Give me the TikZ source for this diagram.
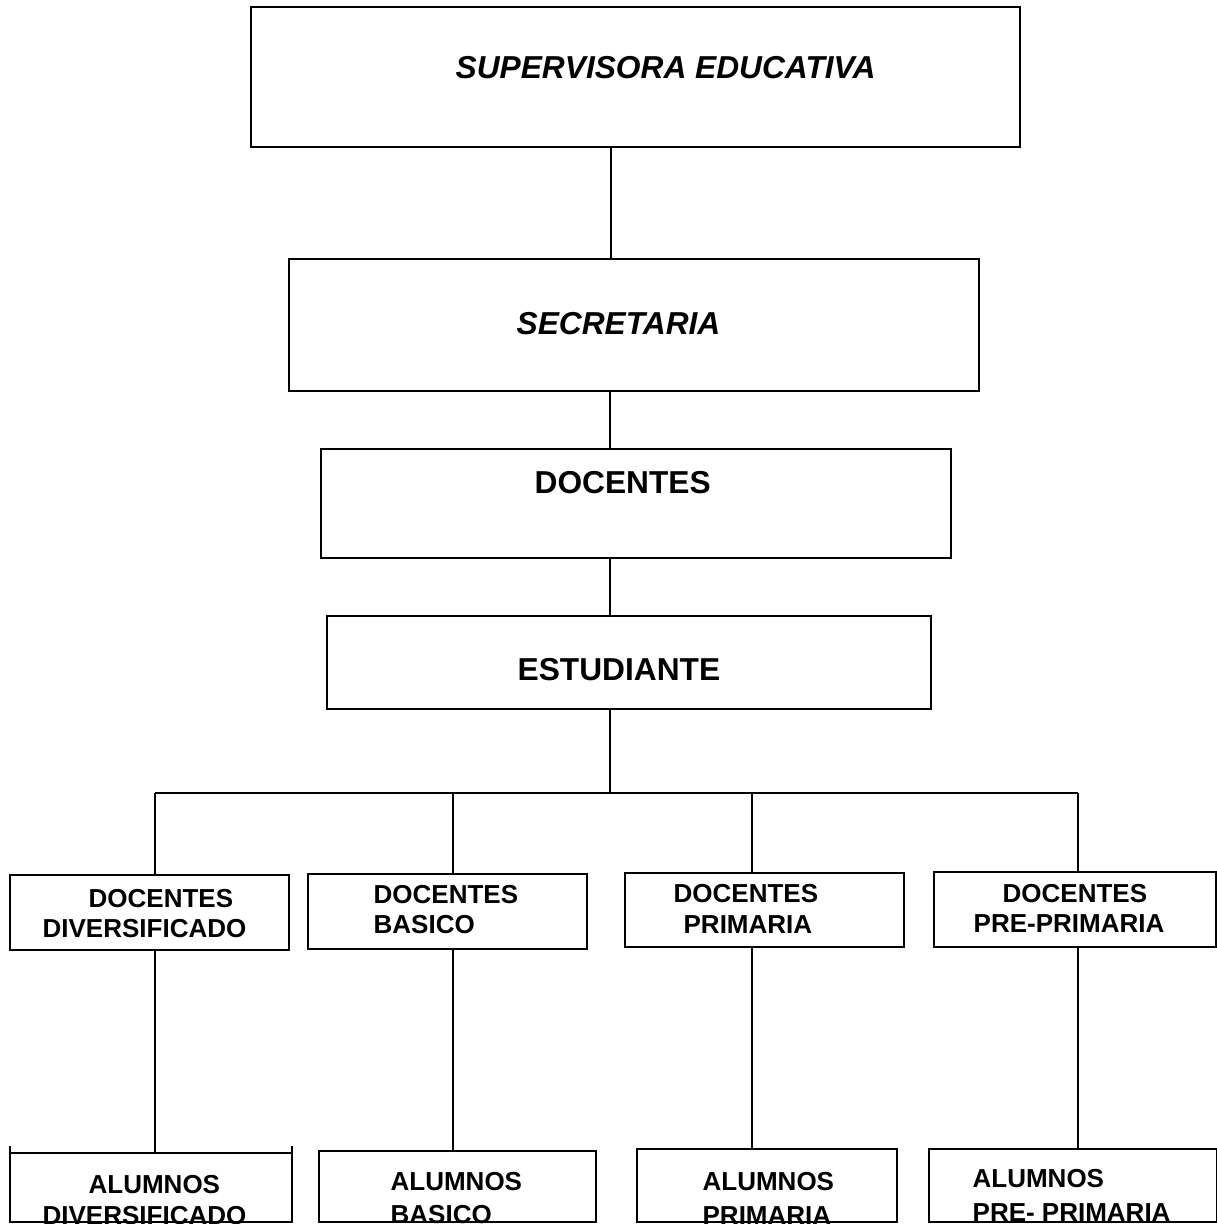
\documentclass[tikz,border=0pt]{standalone}
\usepackage{fontspec}
\setmainfont{Liberation Sans}
\begin{document}
\begin{tikzpicture}[x=1pt,y=-1pt,line width=1.3pt,
  box/.style={draw,rectangle,inner sep=0pt,outer sep=0pt},
  bigtxt/.style={font=\fontsize{31.7}{34}\selectfont\bfseries,inner sep=0pt,anchor=base west},
  bigit/.style={font=\fontsize{31.7}{34}\selectfont\bfseries\itshape,inner sep=0pt,anchor=base west},
  smalltxt/.style={font=\fontsize{26}{28}\selectfont\bfseries,inner sep=0pt,anchor=base west}]
\useasboundingbox (0,0) rectangle (1217,1224);
\clip (0,0) rectangle (1217,1224);
\fill[white] (0,0) rectangle (1217,1224);
% boxes
\node[box,minimum width=769pt,minimum height=140pt] (sup) at (635.5,77) {};
\node[box,minimum width=690pt,minimum height=132pt] (sec) at (634,325) {};
\node[box,minimum width=630pt,minimum height=109pt] (doc) at (636,503.5) {};
\node[box,minimum width=604pt,minimum height=93pt] (est) at (629,662.5) {};
\node[box,minimum width=279pt,minimum height=75pt] (dd) at (149.5,912.5) {};
\node[box,minimum width=279pt,minimum height=75pt] (db) at (447.5,911.5) {};
\node[box,minimum width=279pt,minimum height=74pt] (dp) at (764.5,910) {};
\node[box,minimum width=282pt,minimum height=75pt] (dpp) at (1075,909.5) {};
\node[box,minimum width=282pt,minimum height=69pt] (ad) at (151,1187.5) {};
\node[box,minimum width=277pt,minimum height=71pt] (ab) at (457.5,1186.5) {};
\node[box,minimum width=260pt,minimum height=73pt] (ap) at (767,1185.5) {};
\node[box,minimum width=288pt,minimum height=73pt] (app) at (1073,1185.5) {};
\draw (ad.north west) -- ++(0,-7);
\draw (ad.north east) -- ++(0,-7);
% texts
\node[bigit] (tsup) at (455,78) {SUPERVISORA EDUCATIVA};
\node[bigit] (tsec) at (516,334) {SECRETARIA};
\node[bigtxt] (tdoc) at (534,493) {DOCENTES};
\node[bigtxt] (test) at (517,680) {ESTUDIANTE};
\node[smalltxt] (tdd1) at (88,907) {DOCENTES};
\node[smalltxt] (tdd2) at (42,937) {DIVERSIFICADO};
\node[smalltxt] (tdb1) at (373,903) {DOCENTES};
\node[smalltxt] (tdb2) at (373,933) {BASICO};
\node[smalltxt] (tdp1) at (673,902) {DOCENTES};
\node[smalltxt] (tdp2) at (683,933) {PRIMARIA};
\node[smalltxt] (tdpp1) at (1002,902) {DOCENTES};
\node[smalltxt] (tdpp2) at (973,932) {PRE-PRIMARIA};
\node[smalltxt] (tad1) at (88,1193) {ALUMNOS};
\node[smalltxt] (tad2) at (42,1224) {DIVERSIFICADO};
\node[smalltxt] (tab1) at (390,1190) {ALUMNOS};
\node[smalltxt] (tab2) at (390,1223) {BASICO};
\node[smalltxt] (tap1) at (702,1190) {ALUMNOS};
\node[smalltxt] (tap2) at (702,1224) {PRIMARIA};
\node[smalltxt] (tapp1) at (972,1187) {ALUMNOS};
\node[smalltxt] (tapp2) at (972,1221) {PRE- PRIMARIA};
% connectors
\coordinate (xa) at (611,0);
\coordinate (xb) at (610,0);
\coordinate (x1) at (155,0);
\coordinate (x2) at (453,0);
\coordinate (x3) at (752,0);
\coordinate (x4) at (1078,0);
\coordinate (bar) at (0,793);
\draw (xa |- sup.south) -- (xa |- sec.north);
\draw (xb |- sec.south) -- (xb |- doc.north);
\draw (xb |- doc.south) -- (xb |- est.north);
\draw (xb |- est.south) -- (xb |- bar);
\draw (x1 |- bar) -- (x4 |- bar);
\draw (x1 |- bar) -- (x1 |- dd.north);
\draw (x2 |- bar) -- (x2 |- db.north);
\draw (x3 |- bar) -- (x3 |- dp.north);
\draw (x4 |- bar) -- (x4 |- dpp.north);
\draw (x1 |- dd.south) -- (x1 |- ad.north);
\draw (x2 |- db.south) -- (x2 |- ab.north);
\draw (x3 |- dp.south) -- (x3 |- ap.north);
\draw (x4 |- dpp.south) -- (x4 |- app.north);
\end{tikzpicture}
\end{document}
